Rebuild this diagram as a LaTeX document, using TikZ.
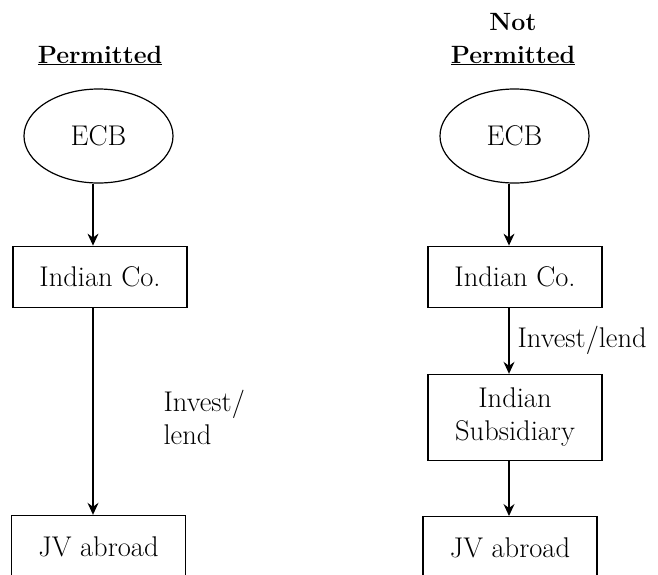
\documentclass[tikz,border=0pt]{standalone}
\usepackage{tikz}
\usetikzlibrary{arrows.meta,positioning,shapes.geometric}

\begin{document}
\begin{tikzpicture}[
  x=1pt, y=1pt,
  font=\fontsize{28.5}{33}\selectfont, line width=1.2pt,
  head/.style={font=\fontsize{25}{33}\selectfont\bfseries, align=center, inner sep=0pt},
  ecb/.style={draw, ellipse, minimum width=149pt, minimum height=94pt, inner sep=0pt},
  box/.style={draw, minimum width=174pt, minimum height=61pt, align=center, inner sep=0pt},
  lbl/.style={align=left, inner sep=2pt},
  arr/.style={-{Stealth[length=12pt, width=11pt, inset=4pt]}}
]
  \useasboundingbox (0,0) rectangle (658,-574);

  % permitted route
  \node[head, anchor=base] (headL) at (100,-63) {\underline{Permitted}};
  \node[ecb] (ecbL) at (98.5,-136) {ECB};
  \node[box, below=62pt of ecbL, xshift=1.5pt] (coL) {Indian Co.};
  \node[box, below=207pt of coL, xshift=-1.5pt, minimum height=70pt] (jvL) {\raisebox{8pt}{JV abroad}};
  \coordinate (spineL) at (93,0);

  \draw[arr] (ecbL.south -| spineL) -- (coL.north -| spineL);
  \draw[arr] (coL.south -| spineL) -- node[lbl, pos=0.53, anchor=west, xshift=68pt] {Invest/\\lend} (jvL.north -| spineL);

  % not permitted route
  \node[head, anchor=base] (headR) at (513,-63) {Not\\\underline{Permitted}};
  \node[ecb] (ecbR) at (514.5,-136) {ECB};
  \node[box, below=62pt of ecbR, xshift=0.5pt] (coR) {Indian Co.};
  \node[box, below=66pt of coR, minimum height=86pt] (subR) {Indian\\Subsidiary};
  \node[box, below=55pt of subR, xshift=-5pt, minimum height=70pt] (jvR) {\raisebox{8pt}{JV abroad}};
  \coordinate (spineR) at (509,0);

  \draw[arr] (ecbR.south -| spineR) -- (coR.north -| spineR);
  \draw[arr] (coR.south -| spineR) -- node[lbl, anchor=west, xshift=6pt] {Invest/lend} (subR.north -| spineR);
  \draw[arr] (subR.south -| spineR) -- (jvR.north -| spineR);
\end{tikzpicture}
\end{document}
